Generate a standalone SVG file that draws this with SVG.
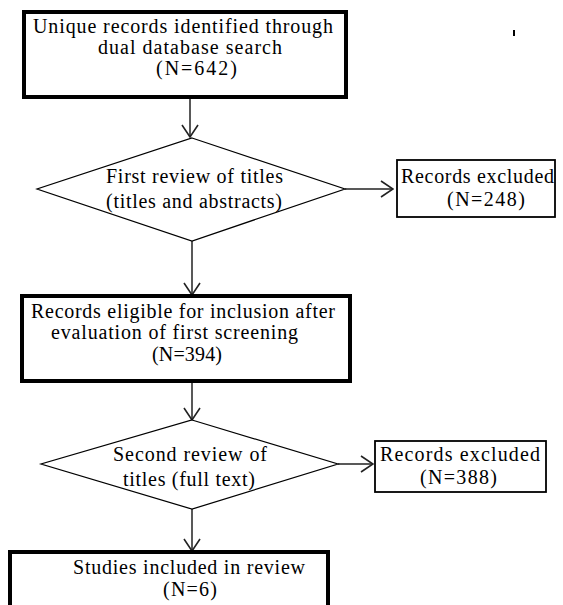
<svg xmlns="http://www.w3.org/2000/svg" width="563" height="605" viewBox="0 0 563 605">
<style>
.thick{fill:#fff;stroke:#000;stroke-width:4}
.thin{fill:#fff;stroke:#000;stroke-width:1.8}
.dia{fill:#fff;stroke:#000;stroke-width:1.2}
.conn{fill:none;stroke:#222;stroke-width:1.5}
text{font-family:"Liberation Serif","Times New Roman",serif;font-size:20px;fill:#000}
</style>
<defs>
<marker id="arr" viewBox="0 0 14 18" refX="13" refY="9" markerWidth="14" markerHeight="18" markerUnits="userSpaceOnUse" orient="auto">
<path d="M1,1 L13,9 L1,17" fill="none" stroke="#222" stroke-width="1.6"/>
</marker>
</defs>
<rect width="563" height="605" fill="#fff"/>
<g id="connectors">
<line class="conn" x1="190" y1="97" x2="190" y2="137" marker-end="url(#arr)"/>
<line class="conn" x1="345" y1="189" x2="393" y2="189" marker-end="url(#arr)"/>
<line class="conn" x1="192" y1="241" x2="192" y2="295" marker-end="url(#arr)"/>
<line class="conn" x1="192" y1="381" x2="192" y2="420" marker-end="url(#arr)"/>
<line class="conn" x1="338" y1="464" x2="373" y2="464" marker-end="url(#arr)"/>
<line class="conn" x1="192" y1="509" x2="192" y2="551" marker-end="url(#arr)"/>
</g>
<g id="n1">
<rect class="thick" x="24" y="12" width="322" height="85"/>
<text x="33" y="33" textLength="300" lengthAdjust="spacing">Unique records identified through</text>
<text x="98" y="54" textLength="184" lengthAdjust="spacing">dual database search</text>
<text x="156" y="75" textLength="81" lengthAdjust="spacing">(N=642)</text>
</g>
<g id="d1">
<polygon class="dia" points="192,138 345,189 192,241 37,189"/>
<text x="106" y="183" textLength="177" lengthAdjust="spacing">First review of titles</text>
<text x="106" y="208" textLength="176" lengthAdjust="spacing">(titles and abstracts)</text>
</g>
<g id="x1">
<rect class="thin" x="397" y="160" width="158" height="57"/>
<text x="401" y="183" textLength="153" lengthAdjust="spacing">Records excluded</text>
<text x="447" y="206" textLength="78" lengthAdjust="spacing">(N=248)</text>
</g>
<g id="n2">
<rect class="thick" x="22" y="296" width="328" height="85"/>
<text x="31" y="318" textLength="304" lengthAdjust="spacing">Records eligible for inclusion after</text>
<text x="51" y="339" textLength="247" lengthAdjust="spacing">evaluation of first screening</text>
<text x="152" y="361" textLength="70" lengthAdjust="spacing">(N=394)</text>
</g>
<g id="d2">
<polygon class="dia" points="192,420 338,464 192,509 41,464"/>
<text x="113" y="461" textLength="154" lengthAdjust="spacing">Second review of</text>
<text x="123" y="486" textLength="132" lengthAdjust="spacing">titles (full text)</text>
</g>
<g id="x2">
<rect class="thin" x="375" y="441" width="171" height="51"/>
<text x="380" y="461" textLength="160" lengthAdjust="spacing">Records excluded</text>
<text x="420" y="484" textLength="77" lengthAdjust="spacing">(N=388)</text>
</g>
<g id="n3">
<rect class="thick" x="10" y="552" width="318" height="70"/>
<text x="73" y="574" textLength="232" lengthAdjust="spacing">Studies included in review</text>
<text x="163" y="596" textLength="54" lengthAdjust="spacing">(N=6)</text>
</g>
<rect x="513" y="30" width="2" height="6" fill="#000"/>
</svg>
